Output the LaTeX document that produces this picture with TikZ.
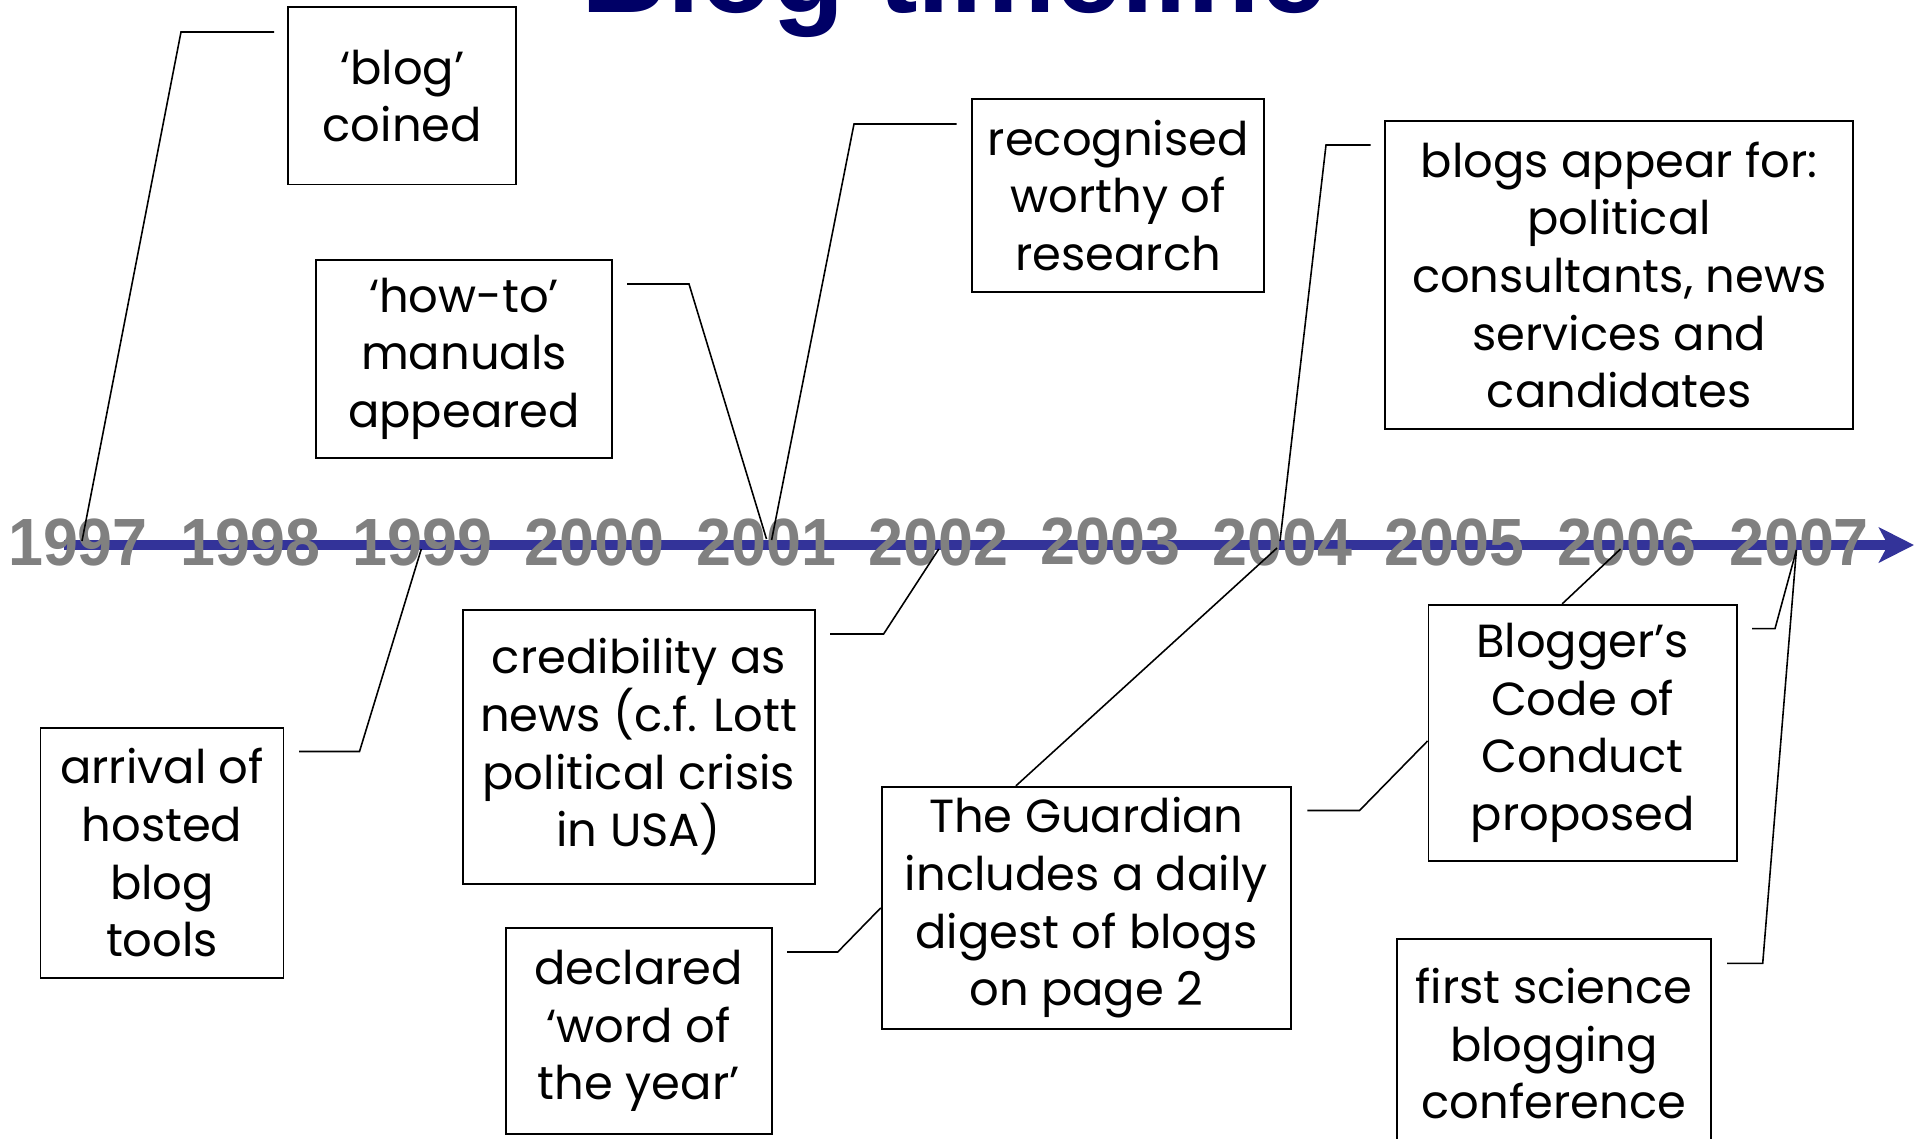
\documentclass[tikz,border=0pt]{standalone}
\usepackage{fontspec}
\setmainfont{Poppins}
\newfontfamily\yearfont[FakeStretch=0.94]{Liberation Sans}
\newfontfamily\titlefont{Liberation Sans}
\usetikzlibrary{arrows.meta}
\definecolor{axisblue}{RGB}{51,51,153}
\definecolor{yeargray}{RGB}{128,128,128}
\definecolor{titlenavy}{RGB}{0,0,102}
\tikzstyle{event}=[draw=black,line width=0.5pt,align=center,inner sep=0pt,
                   font=\fontsize{13.2}{16.4}\selectfont]
\tikzstyle{year}=[text=yeargray,inner sep=0pt,
                  font=\yearfont\bfseries\fontsize{19}{19}\selectfont]
\tikzstyle{title}=[text=titlenavy,inner sep=0pt,
                   font=\titlefont\bfseries\fontsize{33.7}{33.7}\selectfont]
\tikzstyle{link}=[draw=black,line width=0.45pt]
\tikzstyle{axis}=[draw=axisblue,line width=0.105cm,
                  -{Stealth[length=0.35cm,width=0.35cm,inset=0.09cm]}]

\begin{document}
\begin{tikzpicture}[x=0.01cm,y=-0.01cm]
  \useasboundingbox (0,0) rectangle (1921,1138);
  \node[title,anchor=base] (title) at (954,12) {Blog timeline};

  % the time axis
  \draw[axis] (64,545) -- (1914,545);
  \node[year] (y1997) at (78,542) {1997};
  \node[year] (y1998) at (250.1,542) {1998};
  \node[year] (y1999) at (422.2,542) {1999};
  \node[year] (y2000) at (594.3,542) {2000};
  \node[year] (y2001) at (766.4,542) {2001};
  \node[year] (y2002) at (938.5,542) {2002};
  \node[year] (y2003) at (1110.6,542) {2003};
  \node[year] (y2004) at (1282.7,542) {2004};
  \node[year] (y2005) at (1454.8,542) {2005};
  \node[year] (y2006) at (1626.9,542) {2006};
  \node[year] (y2007) at (1799,542) {2007};

  % events above the axis
  \node[event,minimum width=2.28cm,minimum height=1.77cm] (coined)
       at (402.3,95.9) {‘blog’\\coined};
  \node[event,minimum width=2.96cm,minimum height=1.98cm] (howto)
       at (464,358.8) {‘how-to’\\manuals\\appeared};
  \node[event,minimum width=2.92cm,minimum height=1.93cm] (research)
       at (1118.2,195.3) {recognised\\worthy of\\research};
  \node[event,minimum width=4.68cm,minimum height=3.08cm] (political)
       at (1619.2,274.9) {blogs appear for:\\political\\consultants, news\\services and\\candidates};

  % events below the axis
  \node[event,minimum width=2.43cm,minimum height=2.50cm] (hosted)
       at (162,852.8) {arrival of\\hosted\\blog\\tools};
  \node[event,minimum width=3.52cm,minimum height=2.74cm] (credible)
       at (638.8,747) {credibility as\\news (c.f. Lott\\political crisis\\in USA)};
  \node[event,minimum width=2.66cm,minimum height=2.06cm] (wordyear)
       at (638.7,1030.9) {declared\\‘word of\\the year’};
  \node[event,minimum width=4.09cm,minimum height=2.42cm] (guardian)
       at (1086.3,907.8) {The Guardian\\includes a daily\\digest of blogs\\on page 2};
  \node[event,minimum width=3.08cm,minimum height=2.56cm] (conduct)
       at (1582.6,732.8) {Blogger’s\\Code of\\Conduct\\proposed};
  \node[event,minimum width=3.14cm,minimum height=2.10cm] (conference)
       at (1554,1043.7) {first science\\blogging\\conference};

  % callout lines
  \coordinate (s1) at (274,32);     \coordinate (b1) at (181,32);
  \coordinate (t1) at (82,541);
  \coordinate (s2) at (627,284);    \coordinate (b2) at (689,284);
  \coordinate (t2) at (766.5,539);
  \coordinate (s3) at (956.5,124);  \coordinate (b3) at (854,124);
  \coordinate (t3) at (771.6,540);
  \coordinate (s4) at (1370.5,145); \coordinate (b4) at (1326,145);
  \coordinate (t4) at (1280,541);
  \coordinate (s5) at (299,751.5);  \coordinate (b5) at (359.5,751.5);
  \coordinate (t5) at (421.3,549);
  \coordinate (s6) at (830,634);    \coordinate (b6) at (883.6,634);
  \coordinate (t6) at (938.8,549);
  \coordinate (s7) at (787,952);    \coordinate (b7) at (837.7,952);
  \coordinate (t8) at (1277,548);
  \coordinate (s9) at (1307.4,810.5); \coordinate (b9) at (1359.5,810.5);
  \coordinate (t10) at (1620.5,549);
  \coordinate (s11) at (1752,628.6); \coordinate (b11) at (1775,628.6);
  \coordinate (t11) at (1796.4,550);
  \coordinate (s12) at (1727,963.4); \coordinate (b12) at (1762.7,963.4);
  \coordinate (t12) at (1796.4,550);

  \draw[link] (s1) -- (b1) -- (t1);
  \draw[link] (s2) -- (b2) -- (t2);
  \draw[link] (s3) -- (b3) -- (t3);
  \draw[link] (s4) -- (b4) -- (t4);
  \draw[link] (s5) -- (b5) -- (t5);
  \draw[link] (s6) -- (b6) -- (t6);
  \draw[link] (s7) -- (b7) -- (guardian.west);
  \draw[link] (guardian.120) -- (t8);
  \draw[link] (s9) -- (b9) -- (conduct.183);
  \draw[link] (conduct.99) -- (t10);
  \draw[link] (s11) -- (b11) -- (t11);
  \draw[link] (s12) -- (b12) -- (t12);
\end{tikzpicture}
\end{document}
